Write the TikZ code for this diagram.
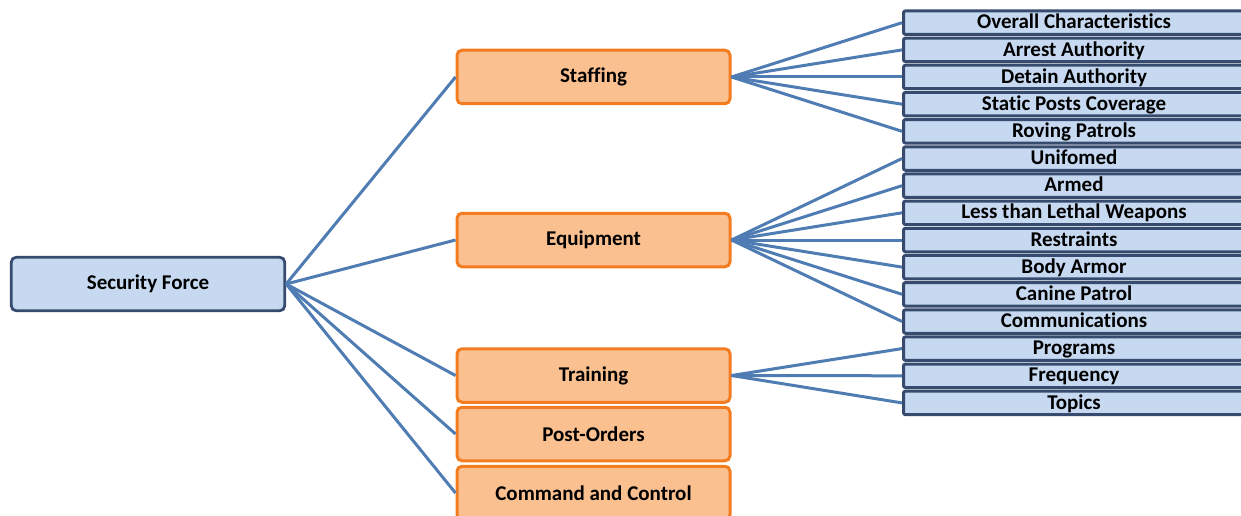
\documentclass[tikz,border=0pt]{standalone}
\usepackage{fontspec}
\setmainfont{Carlito}[Ligatures=NoCommon]
\definecolor{leafblue}{RGB}{198,217,241}
\definecolor{edgeblue}{RGB}{55,75,110}
\definecolor{linkblue}{RGB}{79,124,178}
\definecolor{midorange}{RGB}{250,192,144}
\definecolor{edgeorange}{RGB}{244,124,32}
\begin{document}
\begin{tikzpicture}[x=1pt,y=-1pt,
	root/.style={draw=edgeblue, fill=leafblue, line width=2.8pt, rounded corners=5pt, minimum width=273.5pt, minimum height=53.5pt, font=\bfseries\fontsize{21}{24}\selectfont},
	branch/.style={draw=edgeorange, fill=midorange, line width=3pt, rounded corners=5pt, minimum width=273pt, minimum height=53.5pt, font=\bfseries\fontsize{21}{24}\selectfont},
	leaf/.style={draw=edgeblue, fill=leafblue, line width=3pt, rounded corners=2pt, minimum width=341pt, minimum height=23.5pt, inner sep=0pt, text depth=0.5ex, font=\bfseries\fontsize{21}{24}\selectfont},
	link/.style={draw=linkblue, line width=3pt}]
	\useasboundingbox (0,0) rectangle (1241,516); % Fix the page size
	\clip (0,0) rectangle (1241,516); % Cut what runs past the edges

	\node[root] (force) at (148,284) {Security Force}; % Draw the root box

	\node[branch] (staffing) at (593.5,77) {Staffing}; % Draw the Staffing box
	\node[branch] (equipment) at (593.5,240) {Equipment}; % Draw the Equipment box
	\node[branch] (training) at (593.5,375.5) {Training}; % Draw the Training box
	\node[branch] (orders) at (593.5,434) {Post-Orders}; % Draw the Post-Orders box
	\node[branch] (command) at (593.5,493) {Command and Control}; % Draw the Command and Control box

	\node[leaf] (overall) at (1074,22.7) {Overall Characteristics}; % Staffing items
	\node[leaf] (arrest) at (1074,49.9) {Arrest Authority};
	\node[leaf] (detain) at (1074,77.0) {Detain Authority};
	\node[leaf] (static) at (1074,104.2) {Static Posts Coverage};
	\node[leaf] (roving) at (1074,131.3) {Roving Patrols};
	\node[leaf] (uniformed) at (1074,158.5) {Unifomed}; % Equipment items
	\node[leaf] (armed) at (1074,185.7) {Armed};
	\node[leaf] (lethal) at (1074,212.8) {Less than Lethal Weapons};
	\node[leaf] (restraints) at (1074,240.0) {Restraints};
	\node[leaf] (armor) at (1074,267.1) {Body Armor};
	\node[leaf] (canine) at (1074,294.3) {Canine Patrol};
	\node[leaf] (comms) at (1074,321.5) {Communications};
	\node[leaf] (programs) at (1074,348.6) {Programs}; % Training items
	\node[leaf] (frequency) at (1074,375.8) {Frequency};
	\node[leaf] (topics) at (1074,402.9) {Topics};

	\draw[link] (force.east) -- (staffing.west); % Root to the five branches
	\draw[link] (force.east) -- (equipment.west);
	\draw[link] (force.east) -- (training.west);
	\draw[link] (force.east) -- (orders.west);
	\draw[link] (force.east) -- (command.west);

	\draw[link] (staffing.east) -- (overall.west); % Staffing fan
	\draw[link] (staffing.east) -- (arrest.west);
	\draw[link] (staffing.east) -- (detain.west);
	\draw[link] (staffing.east) -- (static.west);
	\draw[link] (staffing.east) -- (roving.west);

	\draw[link] (equipment.east) -- (uniformed.west); % Equipment fan
	\draw[link] (equipment.east) -- (armed.west);
	\draw[link] (equipment.east) -- (lethal.west);
	\draw[link] (equipment.east) -- (restraints.west);
	\draw[link] (equipment.east) -- (armor.west);
	\draw[link] (equipment.east) -- (canine.west);
	\draw[link] (equipment.east) -- (comms.west);

	\draw[link] (training.east) -- (programs.west); % Training fan
	\draw[link] (training.east) -- (frequency.west);
	\draw[link] (training.east) -- (topics.west);
\end{tikzpicture}
\end{document}
